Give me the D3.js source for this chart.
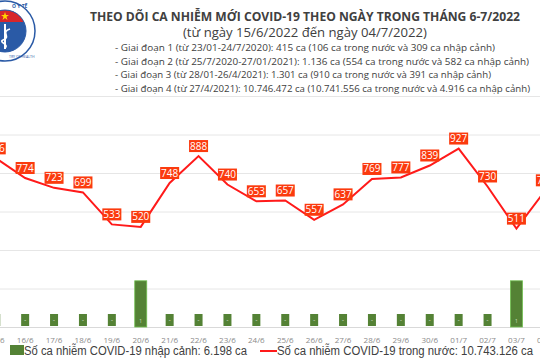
<!DOCTYPE html>
<html><head><meta charset="utf-8">
<script src="https://cdn.jsdelivr.net/npm/d3@7"></script>
<style>html,body{margin:0;padding:0;background:#fff;}svg{display:block;}</style>
</head><body>
<svg id="c" width="540" height="360"></svg>
<script>
const categories = ["15/6","16/6","17/6","18/6","19/6","20/6","21/6","22/6","23/6","24/6","25/6","26/6","27/6","28/6","29/6","30/6","01/7","02/7","03/7","04/7"];
const domestic = [876,774,723,699,533,520,748,888,740,653,657,557,637,769,777,839,927,730,511,710];
const imported = [0,0,0,0,0,1,0,0,0,0,0,0,0,0,0,0,0,0,1,0];
const yTicks = [0,200,400,600,800,1000,1200];
const titleText = "THEO DÕI CA NHIỄM MỚI COVID-19 THEO NGÀY TRONG THÁNG 6-7/2022";
const subtitleText = "(từ ngày 15/6/2022 đến ngày 04/7/2022)";
const bullets = [
  "- Giai đoạn 1 (từ 23/01-24/7/2020): 415 ca (106 ca trong nước và 309 ca nhập cảnh)",
  "- Giai đoạn 2 (từ 25/7/2020-27/01/2021): 1.136 ca (554 ca trong nước và 582 ca nhập cảnh)",
  "- Giai đoạn 3 (từ 28/01-26/4/2021): 1.301 ca (910 ca trong nước và 391 ca nhập cảnh)",
  "- Giai đoạn 4 (từ 27/4/2021): 10.746.472 ca (10.741.556 ca trong nước và 4.916 ca nhập cảnh)"
];
const legendLabels = ["Số ca nhiễm COVID-19 nhập cảnh: 6.198 ca","Số ca nhiễm COVID-19 trong nước: 10.743.126 ca"];

const svg = d3.select("#c");
const font = "'Open Sans', 'Liberation Sans', sans-serif";

// logo
const defs = svg.append("defs");
defs.append("clipPath").attr("id","inner").append("circle").attr("cx",5).attr("cy",31).attr("r",21);
const logo = svg.append("g");
logo.append("circle").attr("cx",5).attr("cy",31).attr("r",30).attr("fill","#fff").attr("stroke","#2a5aa6").attr("stroke-width",1.5);
const inner = logo.append("g").attr("clip-path","url(#inner)");
inner.append("rect").attr("x",-16).attr("y",10).attr("width",42).attr("height",42).attr("fill","#2a5aa6");
inner.append("rect").attr("x",-16).attr("y",10).attr("width",42).attr("height",12).attr("fill","#d7262b");
logo.append("circle").attr("cx",5).attr("cy",31).attr("r",21).attr("fill","none").attr("stroke","#2a5aa6").attr("stroke-width",1);
logo.append("path").attr("d","M5,12 L6,15 L9,15 L6.5,16.8 L7.5,20 L5,18 L2.5,20 L3.5,16.8 L1,15 L4,15Z").attr("fill","#ffd400");
logo.append("line").attr("x1",5).attr("y1",24).attr("x2",5).attr("y2",49).attr("stroke","#fff").attr("stroke-width",2);
logo.append("path").attr("d","M10,29 C0,32 12,37 3,40 C-2,42 10,45 5,48").attr("fill","none").attr("stroke","#fff").attr("stroke-width",1.5);
logo.append("text").attr("x",12).attr("y",8).attr("font-size",5).attr("fill","#2a5aa6").attr("font-family",font).attr("font-weight","bold").text("O Y TẾ");
logo.append("text").attr("x",9).attr("y",58).attr("font-size",3.5).attr("fill","#2a5aa6").attr("font-family",font).text("TRY OF HEALTH");

// titles
svg.append("text").attr("x",305).attr("y",21).attr("text-anchor","middle")
  .attr("font-family",font).attr("font-weight","bold").attr("font-size",12.5).attr("fill","#404040")
  .attr("textLength",430).attr("lengthAdjust","spacingAndGlyphs").text(titleText);
svg.append("text").attr("x",305).attr("y",37).attr("text-anchor","middle")
  .attr("font-family",font).attr("font-size",12.5).attr("fill","#404040")
  .attr("textLength",244).attr("lengthAdjust","spacingAndGlyphs").text(subtitleText);
const bulletW = [380,414,376,415];
svg.selectAll("text.b").data(bullets).join("text").attr("class","b")
  .attr("x",115).attr("y",(d,i)=>51+i*13.5)
  .attr("font-family",font).attr("font-size",9.5).attr("fill","#404040")
  .attr("textLength",(d,i)=>bulletW[i]).attr("lengthAdjust","spacingAndGlyphs").text(d=>d);

// scales
const x = d3.scaleBand().domain(categories).range([-18.2,559.8]).padding(0);
const cx = d => x(d) + x.bandwidth()/2;
const y = d3.scaleLinear().domain([0,1200]).range([327,96]);
const y2 = d3.scaleLinear().domain([0,5]).range([327,96]);

// gridlines
const grid = svg.append("g")
  .call(d3.axisLeft(y).tickValues(yTicks).tickSize(-540).tickFormat(""));
grid.select(".domain").remove();
grid.selectAll(".tick line").attr("x1",0).attr("x2",540).attr("stroke","#e6e6e6").attr("stroke-width",1);
grid.selectAll(".tick").filter(d=>d===0).select("line").attr("stroke","#d9d9d9");

// x axis labels
const xa = svg.append("g").attr("transform","translate(0,327)")
  .call(d3.axisBottom(x).tickSize(0).tickPadding(10));
xa.select(".domain").remove();
xa.selectAll("text").attr("font-family",font).attr("font-size",8).attr("fill","#8a8a8a");

// bars
svg.selectAll("rect.bar").data(categories).join("rect").attr("class","bar")
  .attr("x",d=>cx(d)-6).attr("width",12)
  .attr("y",(d,i)=>y2(imported[i])).attr("height",(d,i)=>y2(0)-y2(imported[i]))
  .attr("fill","#548235").attr("stroke","#70c050").attr("stroke-width",0.8);
// bar labels
const bl = svg.append("g");
categories.forEach((c,i)=>{
  if(imported[i]===0){
    bl.append("rect").attr("x",cx(c)-4).attr("y",314).attr("width",8).attr("height",12).attr("fill","#548235");
    bl.append("text").attr("x",cx(c)).attr("y",322).attr("text-anchor","middle").attr("font-size",6)
      .attr("font-family",font).attr("fill","#fff").text("-");
  } else {
    bl.append("text").attr("x",cx(c)).attr("y",323).attr("text-anchor","middle").attr("font-size",5)
      .attr("font-family",font).attr("fill","#cfe0c0").text(imported[i]);
  }
});

// line
const line = d3.line().x((d,i)=>cx(categories[i])).y(d=>y(d));
svg.append("path").datum(domestic).attr("d",line).attr("fill","none").attr("stroke","#ff1a1a").attr("stroke-width",2);

// labels
const lg = svg.append("g");
domestic.forEach((v,i)=>{
  const px = cx(categories[i]), py = y(v)-10;
  lg.append("rect").attr("x",px-9.5).attr("y",py-6).attr("width",19).attr("height",12).attr("fill","#fb3a0e");
  lg.append("text").attr("x",px).attr("y",py+3.5).attr("text-anchor","middle").attr("font-family",font)
    .attr("font-size",10).attr("fill","#fff").text(v);
});

// legend
svg.append("rect").attr("x",10).attr("y",345).attr("width",14).attr("height",10).attr("fill","#548235");
svg.append("text").attr("x",24).attr("y",355).attr("font-family","'Liberation Sans', Arial, sans-serif").attr("font-size",12.5)
  .attr("fill","#404040").attr("textLength",223).attr("lengthAdjust","spacingAndGlyphs").text(legendLabels[0]);
svg.append("line").attr("x1",260).attr("x2",277).attr("y1",351).attr("y2",351).attr("stroke","#ff1a1a").attr("stroke-width",2);
svg.append("text").attr("x",277).attr("y",355).attr("font-family","'Liberation Sans', Arial, sans-serif").attr("font-size",12.5)
  .attr("fill","#404040").attr("textLength",256).attr("lengthAdjust","spacingAndGlyphs").text(legendLabels[1]);
</script>
</body></html>
